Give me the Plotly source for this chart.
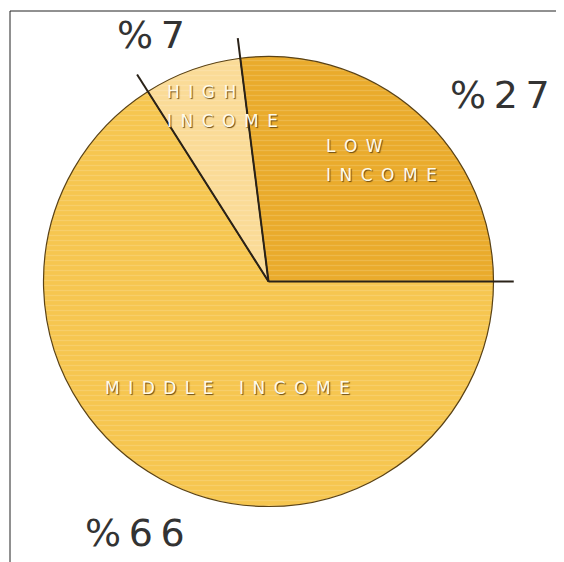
import math
import plotly.graph_objects as go

# slices listed clockwise from 3 o'clock
labels = ["Middle Income", "High Income", "Low Income"]
values = [66, 7, 27]
colors = ["#F6C650", "#FADB97", "#EAAB2C"]
pct_text = ["%\u20096\u20096", "%\u20097", "%\u20092\u20097"]

W, H = 564, 562
OFF = 8                           # page body margin
cx, cy, R = 268.5, 281.5, 225.0   # pie centre / radius in pixels


def px(x, y):
    return (x - OFF) / W, 1 - (y - OFF) / H


fig = go.Figure()
fig.add_trace(go.Pie(
    labels=labels, values=values, sort=False,
    direction="clockwise", rotation=90,
    marker=dict(colors=colors, line=dict(color="#5a4215", width=1.2),
                pattern=dict(shape="-", bgcolor=colors,
                             fgcolor=["white"] * 3, fgopacity=0.15,
                             size=5, solidity=0.25)),
    textinfo="none", hoverinfo="label+percent", showlegend=False,
    domain=dict(x=[(cx - R - OFF) / W, (cx + R - OFF) / W],
                y=[1 - (cy + R - OFF) / H, 1 - (cy - R - OFF) / H]),
))

# radial divider lines, running a bit past the rim
shapes = []
total = sum(values)
cum = 0
for v in values:
    ang = -math.radians(cum / total * 360)
    cum += v
    x0, y0 = px(cx, cy)
    x1, y1 = px(cx + 1.09 * R * math.cos(ang), cy - 1.09 * R * math.sin(ang))
    shapes.append(dict(type="line", xref="paper", yref="paper",
                       x0=x0, y0=y0, x1=x1, y1=y1,
                       line=dict(color="#2a2218", width=2)))

# frame
fx0, fy1 = px(10, 11)
shapes.append(dict(type="rect", xref="paper", yref="paper",
                   x0=fx0, y0=-0.1, x1=1.1, y1=fy1,
                   line=dict(color="#222", width=1)))

lab_font = dict(family="DejaVu Sans", size=17, color="#fffbea",
                shadow="1px 1px 1px #6b4a12")
big_font = dict(family="DejaVu Sans", size=38, color="#333333")

annotations = []


def note(x, y, text, font, anchor="center"):
    ax, ay = px(x, y)
    annotations.append(dict(x=ax, y=ay, xref="paper", yref="paper",
                            text=text, showarrow=False, font=font,
                            xanchor=anchor, yanchor="middle"))


sp = "\u2002"
note(165, 92, sp.join("HIGH"), lab_font, "left")
note(165, 121, sp.join("INCOME"), lab_font, "left")
note(324, 146, sp.join("LOW"), lab_font, "left")
note(324, 175, sp.join("INCOME"), lab_font, "left")
note(103, 388, sp.join("MIDDLE") + "\u2003\u2002" + sp.join("INCOME"),
     lab_font, "left")

note(135, 533, pct_text[0], big_font)
note(151, 35, pct_text[1], big_font)
note(500, 95, pct_text[2], big_font)

fig.update_layout(width=W, height=H, margin=dict(l=0, r=0, t=0, b=0),
                  paper_bgcolor="white", plot_bgcolor="white",
                  shapes=shapes, annotations=annotations)

fig.write_html("out.html")
